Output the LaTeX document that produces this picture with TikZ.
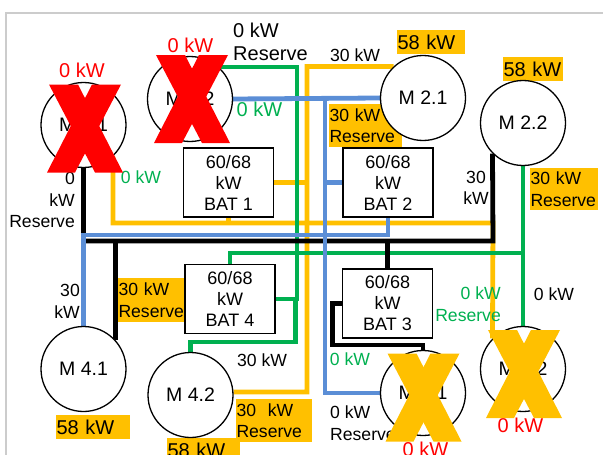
\documentclass[tikz,border=0pt]{standalone}
\usepackage{fontspec}
\setmainfont{Liberation Sans}
\usetikzlibrary{backgrounds}
\definecolor{ylw}{HTML}{FFC000}
\definecolor{blu}{HTML}{5B8ED6}
\definecolor{grn}{HTML}{00B050}
\definecolor{rd}{HTML}{FF0000}
\definecolor{framec}{HTML}{CCCCCC}
\newcommand{\drawcross}[3]{%
  \begin{scope}[shift={(#1,#2)}]
    \fill[#3] (-36,-44) -- (-7,-44) -- (38,44) -- (10,44) -- cycle;
    \fill[#3] (7,-44) -- (36,-44) -- (-10,44) -- (-38,44) -- cycle;
  \end{scope}}
\begin{document}
\begin{tikzpicture}[x=1pt,y=-1pt,
  motor/.style={circle, draw, line width=1.3pt, fill=white, minimum size=85pt, inner sep=0pt, font=\fontsize{19.5}{22}\selectfont},
  batbox/.style={draw, line width=1.3pt, fill=white, minimum width=90pt, minimum height=69pt, inner sep=0pt, align=center, font=\fontsize{18}{21}\selectfont},
  wire/.style={line width=4.8pt},
  ywire/.style={wire, draw=ylw},
  gwire/.style={wire, draw=grn},
  bwire/.style={wire, draw=blu},
  kwire/.style={wire, draw=black},
  lbl/.style={inner sep=0pt, font=\fontsize{17.6}{21.5}\selectfont},
  lbig/.style={inner sep=0pt, font=\fontsize{20}{23}\selectfont},
  hl/.style={fill=ylw, inner xsep=0.5pt, inner ysep=0pt, align=left, font=\fontsize{17.6}{21.5}\selectfont},
  hlbig/.style={hl, font=\fontsize{20}{23}\selectfont},
]
\useasboundingbox (0,0) rectangle (603,455);
\draw[framec, line width=1.5pt] (6,470) -- (6,13) -- (620,13);

% motors
\node[motor] (m11) at (83.5,125) {M 1.1};
\node[motor] (m12) at (190,99) {M 1.2};
\node[motor] (m21) at (423,98) {M 2.1};
\node[motor] (m22) at (523,123) {M 2.2};
\node[motor] (m41) at (83.5,369) {M 4.1};
\node[motor] (m42) at (190.5,395) {M 4.2};
\node[motor] (m31) at (423,393) {M 3.1};
\node[motor] (m32) at (523,369) {M 3.2};
% batteries
\node[batbox] (b1) at (228.5,182.5) {60/68\\kW\\BAT 1};
\node[batbox] (b2) at (388,182.5) {60/68\\kW\\BAT 2};
\node[batbox] (b4) at (230,299) {60/68\\kW\\BAT 4};
\node[batbox] (b3) at (387.5,303.5) {60/68\\kW\\BAT 3};

\begin{scope}[on background layer]
  \coordinate (kh) at (0,241);
  \coordinate (bj) at (325,98.5);
  % yellow
  \draw[ywire] (m21.133) -| (307,392) -- (m42.4);
  \draw[ywire] (b1.east) -- ++(34,0);
  \draw[ywire] (m11.-47) |- (493,223) -- (m32.135);
  \draw[ywire] (b1.south) -- ++(0,6);
  % green
  \draw[gwire] (m12.48) -| (297,299) -- (b4.east);
  \draw[gwire] (b4.east) -| (295.5,342) -| (m42.north);
  \draw[gwire] (m22.south) -- (m32.north);
  \draw[gwire] (b4.north) |- (523,253);
  % black
  \draw[kwire] (m11.south) |- (493,241) -- (m22.225);
  \draw[kwire] (m41.42) -- (m41.42 |- kh);
  \draw[kwire] (b3.north) -- (b3.north |- kh);
  \draw[kwire] (b3.west) -- ++(-9,0) |- (423,345) -- (m31.north);
  % blue
  \draw[bwire] (m12.east) -- (m21.west);
  \draw[bwire] (bj) |- (m31.west);
  \draw[bwire] (b2.west) -- ++(-18.5,0);
  \draw[bwire] (b2.south) |- (83.5,235) -- (m41.north);

  % labels
  \node[lbig, text=rd] (t1) at (82,70) {0 kW};
  \node[lbig, text=rd] (t2) at (190.5,45.5) {0 kW};
  \node[lbig, align=left, anchor=west] (t3) at (233,41.5) {0 kW\\Reserve};
  \node[lbig, text=grn] (t4) at (259.5,109.5) {0 kW};
  \node[lbl, text=grn] (t5) at (141,177) {0 kW};
  \node[lbl, align=right, anchor=east] (t6) at (75,200) {0\\kW\\Reserve};
  \node[lbl] (t7) at (355,55) {30 kW};
  \node[hlbig, minimum height=24pt, text width=67pt] (h1) at (431,42) {58 kW};
  \node[hlbig, minimum height=24pt, text width=59pt] (h2) at (533,69) {58 kW};
  \node[hl, minimum height=43pt, text width=72pt] (h3) at (365.5,125.5) {30 kW\\Reserve};
  \node[lbl, align=center] (t8) at (476,188) {30\\kW};
  \node[hl, minimum height=42pt, text width=67pt] (h4) at (564,189) {30 kW\\Reserve};
  \node[lbl, align=right, anchor=east] (t9) at (80,301.5) {30\\kW};
  \node[hl, minimum height=44pt, text width=66pt] (h5) at (151.5,300) {30 kW\\Reserve};
  \node[hlbig, minimum height=24pt, text width=73pt] (h6) at (93,427) {58 kW};
  \node[lbl] (t10) at (262,360) {30 kW};
  \node[hl, minimum height=43pt, text width=75pt] (h7) at (274,420.5) {30\ \ kW\\Reserve};
  \node[hlbig, minimum height=24pt, text width=72pt] (h8) at (203.5,450) {58 kW};
  \node[lbl, text=grn] (t11) at (350,359) {0 kW};
  \node[lbl, align=left, anchor=west] (t12) at (330,423) {0 kW\\Reserve};
  \node[lbig, text=rd] (t13) at (425.5,449) {0 kW};
  \node[lbl, text=grn, align=right, anchor=east] (t14) at (501,304) {0 kW\\Reserve};
  \node[lbl] (t15) at (554,294) {0 kW};
  \node[lbig, text=rd] (t16) at (520.5,425.5) {0 kW};
\end{scope}

% crosses
\drawcross{85}{128.5}{rd}
\drawcross{192}{99}{rd}
\drawcross{423.5}{397.5}{ylw}
\drawcross{524}{374}{ylw}
\end{tikzpicture}
\end{document}
